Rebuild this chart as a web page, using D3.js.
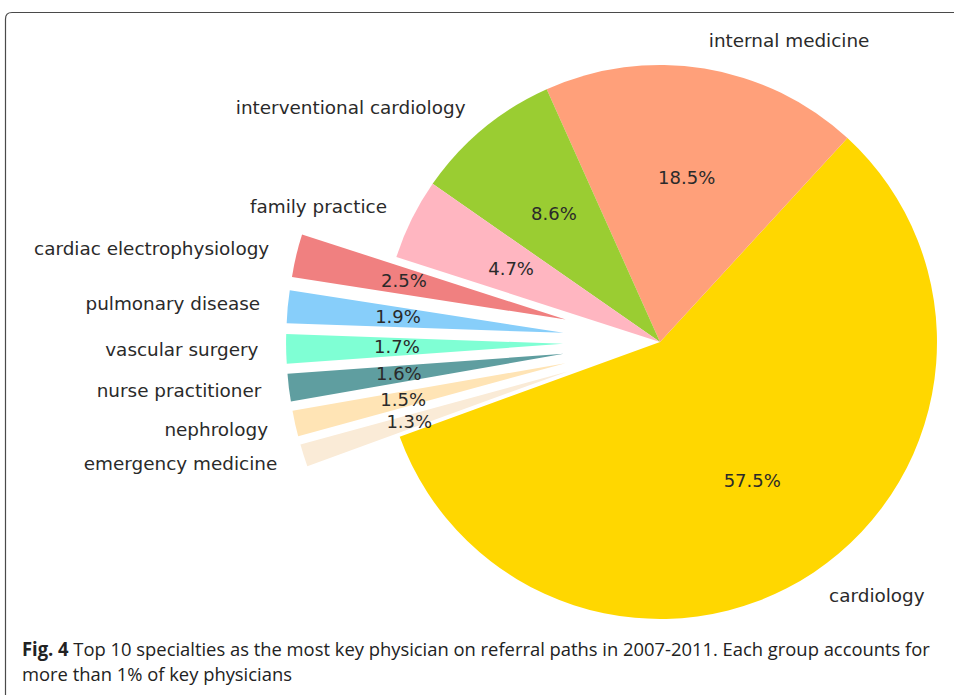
<!DOCTYPE html>
<html>
<head>
<meta charset="utf-8">
<script src="https://cdn.jsdelivr.net/npm/d3@7"></script>
<style>
  html, body { margin: 0; padding: 0; background: #fff; }
  svg { display: block; }
</style>
</head>
<body>
<svg id="chart" width="954" height="695"></svg>
<script>
const categories = ["cardiology", "internal medicine", "interventional cardiology", "family practice",
  "cardiac electrophysiology", "pulmonary disease", "vascular surgery", "nurse practitioner",
  "nephrology", "emergency medicine"];
const shares = [57.5, 18.5, 8.6, 4.7, 2.5, 1.9, 1.7, 1.6, 1.5, 1.3];
const explode = [0, 0, 0, 0, 0.35, 0.35, 0.35, 0.35, 0.35, 0.35];
const colors = ["#FFD700", "#FFA07A", "#9ACD32", "#FFB6C1", "#F08080", "#87CEFA",
  "#7FFFD4", "#5F9EA0", "#FFE4B5", "#FAEBD7"];
const captionBold = "Fig. 4";
const captionLine1 = "  Top 10 specialties as the most key physician on referral paths in 2007-2011. Each group accounts for";
const captionLine2 = "more than 1% of key physicians";

const svg = d3.select("#chart");
const cx = 660, cy = 342, R = 277;
const startDeg = 200; // matplotlib-style start angle (counterclockwise from 3 o'clock)

// frame
svg.append("path")
  .attr("d", "M5.5,695 L5.5,19 Q5.5,12.5 12,12.5 L954,12.5")
  .attr("fill", "none").attr("stroke", "#4a4a4a").attr("stroke-width", 1.2);

const a0 = Math.PI / 2 - startDeg * Math.PI / 180;
const pie = d3.pie().sort(null).startAngle(a0).endAngle(a0 - 2 * Math.PI);
const arcs = pie(shares);
const arc = d3.arc().innerRadius(0).outerRadius(R);

const g = svg.append("g").attr("transform", `translate(${cx},${cy})`);
const mid = d => (d.startAngle + d.endAngle) / 2;

const slices = g.selectAll("g.slice").data(arcs).enter().append("g")
  .attr("class", "slice")
  .attr("transform", (d, i) => {
    const m = mid(d), off = explode[i] * R;
    return `translate(${Math.sin(m) * off},${-Math.cos(m) * off})`;
  });

slices.append("path").attr("d", arc).attr("fill", (d, i) => colors[i]);

const fontFam = "'DejaVu Sans', sans-serif";
slices.append("text")
  .attr("x", d => Math.sin(mid(d)) * R * 1.1)
  .attr("y", d => -Math.cos(mid(d)) * R * 1.1)
  .attr("dy", "0.33em")
  .attr("text-anchor", d => Math.sin(mid(d)) >= 0 ? "start" : "end")
  .attr("font-family", fontFam).attr("font-size", 18.4).attr("fill", "#2a2a2a")
  .text((d, i) => categories[i]);

slices.append("text")
  .attr("x", d => Math.sin(mid(d)) * R * 0.6)
  .attr("y", d => -Math.cos(mid(d)) * R * 0.6)
  .attr("dy", "0.35em")
  .attr("text-anchor", "middle")
  .attr("font-family", fontFam).attr("font-size", 18).attr("fill", "#2a2a2a")
  .text((d, i) => shares[i].toFixed(1) + "%");

// caption (horizontally condensed to fit the reference line width)
const capFont = "'Open Sans', sans-serif";
const t1 = svg.append("text").attr("x", 0).attr("y", 0)
  .attr("font-family", capFont).attr("font-size", 19).attr("fill", "#222");
t1.append("tspan").attr("font-weight", "bold").text(captionBold);
t1.append("tspan").text(captionLine1);
const t2 = svg.append("text").attr("x", 0).attr("y", 0)
  .attr("font-family", capFont).attr("font-size", 19).attr("fill", "#222")
  .text(captionLine2);
const w1 = t1.node().getComputedTextLength();
const ratio = 908 / w1;
t1.attr("transform", `translate(22,656) scale(${ratio},1)`);
t2.attr("transform", `translate(22,681) scale(${ratio},1)`);
</script>
</body>
</html>
